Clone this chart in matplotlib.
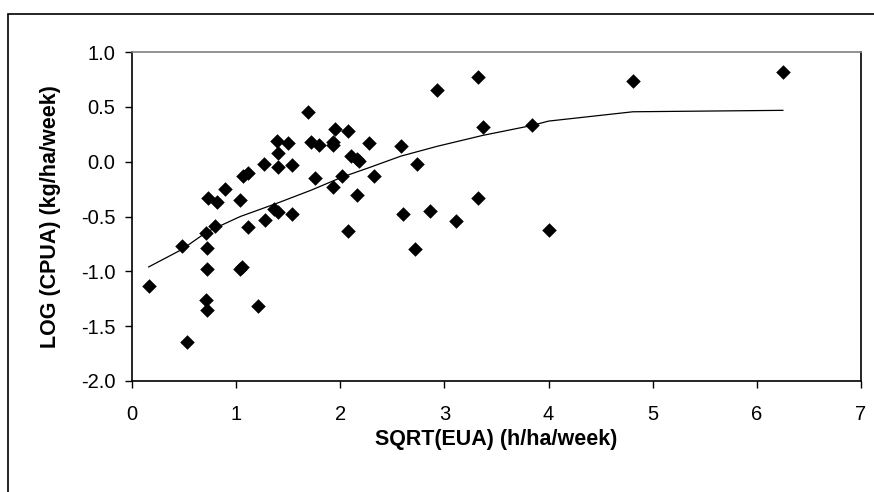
import numpy as np
import matplotlib
matplotlib.use("Agg")
import matplotlib.pyplot as plt
from matplotlib.patches import Rectangle

plt.rcParams['font.family'] = ['Liberation Sans', 'DejaVu Sans']

eua = [0.16, 0.48, 0.53, 0.73, 0.82, 0.89, 0.71, 0.80, 0.72, 0.72, 0.71, 0.72,
       1.04, 1.07, 1.11, 1.11, 1.04, 1.06, 1.21, 1.27, 1.28, 1.39, 1.40, 1.40,
       1.50, 1.54, 1.36, 1.40, 1.54, 1.69, 1.72, 1.80, 1.76, 1.95, 1.93, 1.93,
       1.93, 2.07, 2.02, 2.10, 2.16, 2.18, 2.16, 2.07, 2.28, 2.32, 2.58, 2.74,
       2.93, 3.32, 3.37, 3.84, 2.60, 2.86, 2.72, 3.11, 3.32, 4.00, 4.81, 6.25]
cpua = [-1.13, -0.77, -1.64, -0.33, -0.37, -0.25, -0.65, -0.59, -0.79, -0.98, -1.26, -1.35,
        -0.35, -0.13, -0.10, -0.60, -0.98, -0.96, -1.32, -0.02, -0.53, 0.19, 0.08, -0.05,
        0.17, -0.03, -0.43, -0.46, -0.48, 0.45, 0.18, 0.15, -0.15, 0.30, 0.18, 0.15,
        -0.23, 0.28, -0.13, 0.05, 0.02, 0.01, -0.30, -0.63, 0.17, -0.13, 0.14, -0.02,
        0.65, 0.77, 0.32, 0.33, -0.48, -0.45, -0.80, -0.54, -0.33, -0.62, 0.74, 0.82]

# linea ajustada
fit_x = [0.16, 0.48, 0.72, 1.04, 1.39, 1.72, 2.02, 2.29, 2.58, 2.93, 3.37, 3.84, 4.00, 4.81, 6.25]
fit_y = [-0.96, -0.80, -0.64, -0.50, -0.38, -0.26, -0.14, -0.05, 0.05, 0.14, 0.24, 0.33, 0.37, 0.455, 0.468]

fig = plt.figure(figsize=(8.74, 4.92), dpi=100)
ax = fig.add_axes([132/874, 1 - 381/492, 729/874, 329/492])

ax.plot(fit_x, fit_y, '-', color='black', lw=0.9)
ax.scatter(eua, cpua, marker='D', s=55, color='black', zorder=3, linewidths=0)

ax.set_xlim(0, 7)
ax.set_ylim(-2.0, 1.0)
ax.set_xticks(range(8))
ax.set_yticks(np.arange(-2.0, 1.01, 0.5))
ax.set_yticklabels(['%.1f' % v for v in np.arange(-2.0, 1.01, 0.5)])
ax.tick_params(direction='out', length=5, width=1, labelsize=14.5)
ax.tick_params(axis='y', pad=7)
ax.tick_params(axis='x', pad=12)

ax.spines['top'].set_color('#808080')
ax.spines['top'].set_linewidth(1.2)
for s in ['left', 'bottom', 'right']:
    ax.spines[s].set_color('black')
    ax.spines[s].set_linewidth(1.2)

ax.set_xlabel('SQRT(EUA) (h/ha/week)', fontsize=15.5, fontweight='bold')
ax.set_ylabel('LOG (CPUA) (kg/ha/week)', fontsize=15.5, fontweight='bold')
ax.xaxis.set_label_coords(0.5, 1 - 440/492, transform=fig.transFigure)
ax.yaxis.set_label_coords(51/874, 0.5 * (1 - 381/492) + 0.5 * (1 - 52/492), transform=fig.transFigure)
ax.xaxis.label.set_va('center')
ax.yaxis.label.set_va('center')
ax.xaxis.label.set_x((132 + 861) / 2 / 874)

# marco exterior
fig.patches.append(Rectangle((8/874, -0.01), 1.0, 1 - 14/492 + 0.01,
                             transform=fig.transFigure, fill=False,
                             edgecolor='black', lw=1.2))

fig.savefig('out.png', dpi=100)
